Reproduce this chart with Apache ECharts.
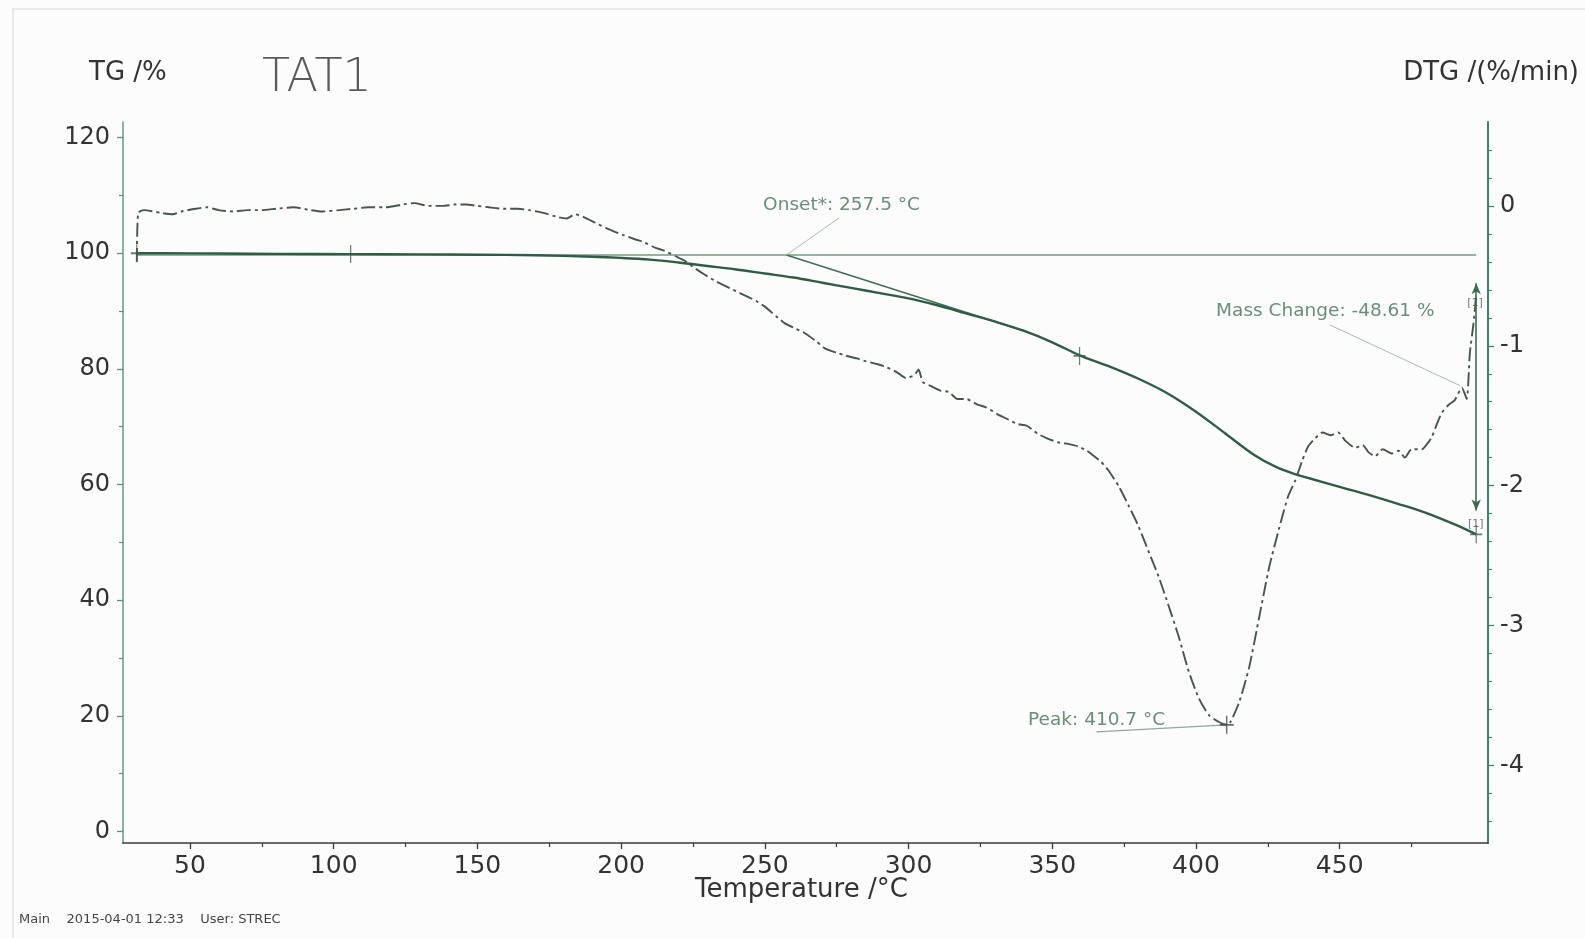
<!DOCTYPE html>
<html>
<head>
<meta charset="utf-8">
<title>TAT1 – TG / DTG</title>
<script src="https://cdn.jsdelivr.net/npm/echarts@6/dist/echarts.min.js"></script>
<style>
  html, body { margin: 0; padding: 0; background: #fcfcfc; }
  #chart { width: 1585px; height: 938px; }
</style>
</head>
<body>
<div id="chart"></div>
<script>
// ---- measured curves ----
// TG: temperature (°C), residual mass (%)
const tgPoints = [
  [31.5,100.0],[40,100.0],[60,99.95],[80,99.9],[105.9,99.85],[130,99.8],[150,99.75],
  [170,99.65],[190,99.4],[200,99.2],[210,98.9],[220,98.4],[230,97.8],[240,97.2],
  [250,96.5],[260,95.8],[270,94.9],[280,94.0],[290,93.1],[300,92.2],[310,91.0],
  [320,89.6],[330,88.2],[340,86.6],[350,84.6],[360,82.25],[370,80.4],[380,78.3],
  [390,75.8],[400,72.6],[410,68.9],[420,65.2],[428,63.0],[435,61.7],[440,61.0],
  [450,59.6],[460,58.2],[470,56.7],[480,55.1],[490,53.1],[497.5,51.39]
];

// DTG: temperature (°C), mass-loss rate (%/min)
const dtgPoints = [
  [31.5,-0.40],[32,-0.05],[34,-0.03],[40,-0.05],[44,-0.06],[47,-0.04],[52,-0.02],[56,-0.01],
  [60,-0.03],[65,-0.04],[70,-0.03],[75,-0.03],[80,-0.02],[86,-0.01],[92,-0.03],[96,-0.04],
  [102,-0.03],[107,-0.02],[112,-0.01],[118,-0.01],[124,0.01],[128,0.02],[133,0.0],[138,0.0],
  [142,0.01],[146,0.01],[150,0.0],[154,-0.01],[159,-0.02],[164,-0.02],[168,-0.03],[173,-0.05],
  [178,-0.08],[181,-0.09],[184,-0.06],[187,-0.08],[191,-0.12],[195,-0.16],[201,-0.21],[205,-0.24],
  [208,-0.26],[212,-0.30],[215,-0.32],[219,-0.36],[222,-0.39],[226,-0.45],[229,-0.49],[233,-0.54],
  [236,-0.57],[240,-0.61],[243,-0.64],[247,-0.68],[250,-0.72],[254,-0.79],[257,-0.84],[261,-0.88],
  [264,-0.91],[268,-0.97],[271,-1.02],[275,-1.05],[278,-1.07],[282,-1.09],[285,-1.11],[289,-1.13],
  [292,-1.15],[296,-1.19],[299,-1.23],[302,-1.21],[303.5,-1.17],[305,-1.26],[308,-1.29],[311,-1.32],
  [314,-1.33],[317,-1.38],[320,-1.38],[324,-1.42],[327,-1.44],[331,-1.49],[334,-1.52],[338,-1.56],
  [341,-1.57],[345,-1.63],[348,-1.66],[352,-1.69],[355,-1.70],[359,-1.72],[362,-1.75],[364,-1.78],
  [367,-1.83],[369.5,-1.89],[373,-2.00],[376.5,-2.14],[380,-2.29],[383.5,-2.47],[387,-2.65],
  [390.5,-2.86],[394,-3.08],[397.5,-3.33],[401,-3.52],[404.5,-3.64],[408,-3.69],[410.7,-3.71],
  [412,-3.69],[415,-3.55],[418.5,-3.30],[422,-2.94],[425.5,-2.58],[429,-2.30],[432,-2.08],
  [434.6,-1.96],[437,-1.82],[439,-1.72],[441.5,-1.66],[444,-1.62],[447,-1.64],[449.5,-1.62],
  [452,-1.68],[455.4,-1.73],[458,-1.71],[460,-1.76],[462.3,-1.79],[465,-1.74],[468.2,-1.77],
  [470.5,-1.75],[472.7,-1.80],[475,-1.74],[478.6,-1.74],[480.5,-1.70],[482.1,-1.65],[484,-1.55],
  [485.5,-1.48],[488,-1.42],[490,-1.39],[492.5,-1.30],[494.2,-1.38],[495.3,-1.05],[496.5,-0.85],
  [497.5,-0.65]
];

// ---- evaluation constructions (TG axis) ----
const onsetBaseline = [[31.5,99.7],[497.5,99.7]];
const onsetTangent = [[257.5,99.7],[340,86.6]];
const onsetLeader = [[275.8,106.1],[257.5,99.7]];
const massLeader = [[446.6,87.6],[491.9,77.1]];
const massArrow = [[497.5,94.8],[497.5,55.5]];
const tgMarkers = [[31.5,100.0],[105.9,99.85],[359.5,82.25],[497.5,51.39]];

// ---- evaluation constructions (DTG axis) ----
const peakLeader = [[365.4,-3.76],[410.7,-3.71]];
const dtgMarkers = [[410.7,-3.71]];

// ---- annotation texts (anchored at left edge, TG axis) ----
const noteLabels = [
  { name: 'Onset*: 257.5 °C', value: [249.4,108.3] },
  { name: 'Mass Change: -48.61 %', value: [407.0,89.95] },
  { name: 'Peak: 410.7 °C', value: [341.6,19.3] }
];
const stepTags = [
  { name: '[1]', value: [494.4,91.4] },
  { name: '[1]', value: [494.6,53.1] }
];

// ---- axis ticks ----
const tempTicks = [50,100,150,200,250,300,350,400,450];
const tempMinorTicks = [75,125,175,225,275,325,375,425,475];
const tgTicks = [0,20,40,60,80,100,120];
const tgMinorTicks = [10,30,50,70,90,110];
const dtgTicks = [0,-1,-2,-3,-4];
const dtgMinorTicks = [0.4,0.2,-0.2,-0.4,-0.6,-0.8,-1.2,-1.4,-1.6,-1.8,-2.2,-2.4,-2.6,-2.8,
                       -3.2,-3.4,-3.6,-3.8,-4.2,-4.4];

const FONT = 'DejaVu Sans';
const TG_MIN = -2.0, TG_MAX = 122.7;
const DTG_MIN = -4.555, DTG_MAX = 0.6;
const T_MIN = 26.7, T_MAX = 501.6;

const chart = echarts.init(document.getElementById('chart'));

function minorAxis(pos, min, max, ticks, color) {
  return {
    type: 'value', position: pos, min: min, max: max,
    axisLine: { show: false, onZero: false },
    axisLabel: { show: false },
    splitLine: { show: false },
    axisTick: { show: true, customValues: ticks, length: 4, lineStyle: { color: color, width: 1.2 } }
  };
}

function helperLine(data, yIdx, color, width) {
  return {
    type: 'line', data: data, xAxisIndex: 0, yAxisIndex: yIdx,
    showSymbol: false, silent: true, animation: false, z: 3,
    lineStyle: { color: color, width: width }
  };
}

const plusPath = 'path://M9,0 L11,0 L11,9 L20,9 L20,11 L11,11 L11,20 L9,20 L9,11 L0,11 L0,9 L9,9 Z';

chart.setOption({
  backgroundColor: '#fcfcfc',
  animation: false,
  grid: { left: 123, top: 122, width: 1365, height: 721 },
  xAxis: [
    {
      type: 'value', min: T_MIN, max: T_MAX, position: 'bottom',
      axisLine: { onZero: false, lineStyle: { color: '#3a3a3a', width: 1.6 } },
      axisTick: { customValues: tempTicks, length: 6, lineStyle: { color: '#3a3a3a', width: 1.3 } },
      axisLabel: { customValues: tempTicks, fontSize: 25, color: '#333', fontFamily: FONT, margin: 11 },
      splitLine: { show: false }
    },
    {
      type: 'value', min: T_MIN, max: T_MAX, position: 'bottom',
      axisLine: { show: false, onZero: false }, axisLabel: { show: false }, splitLine: { show: false },
      axisTick: { customValues: tempMinorTicks, length: 4, lineStyle: { color: '#3a3a3a', width: 1.2 } }
    }
  ],
  yAxis: [
    {
      type: 'value', position: 'left', min: TG_MIN, max: TG_MAX,
      axisLine: { show: true, onZero: false, lineStyle: { color: '#6f9e8c', width: 1.6 } },
      axisTick: { show: true, customValues: tgTicks, length: 6, lineStyle: { color: '#5d8d7b', width: 1.3 } },
      axisLabel: { customValues: tgTicks, fontSize: 24, color: '#333', fontFamily: FONT, margin: 13 },
      splitLine: { show: false }
    },
    {
      type: 'value', position: 'right', min: DTG_MIN, max: DTG_MAX,
      axisLine: { show: true, onZero: false, lineStyle: { color: '#3f826c', width: 2 } },
      axisTick: { show: true, customValues: dtgTicks, length: 6, lineStyle: { color: '#3f826c', width: 1.3 } },
      axisLabel: { customValues: dtgTicks, fontSize: 24, color: '#333', fontFamily: FONT, margin: 12 },
      splitLine: { show: false }
    },
    minorAxis('left', TG_MIN, TG_MAX, tgMinorTicks, '#5d8d7b'),
    minorAxis('right', DTG_MIN, DTG_MAX, dtgMinorTicks, '#3f826c')
  ],
  series: [
    // onset evaluation: extrapolated baseline, tangent and leader
    helperLine(onsetBaseline, 0, '#6f9d86', 1.6),
    helperLine(onsetTangent, 0, '#3f6f56', 1.6),
    helperLine(onsetLeader, 0, '#a9bdb1', 1),
    helperLine(massLeader, 0, '#a9bdb1', 1),
    helperLine(peakLeader, 1, '#8fa89a', 1.2),
    {
      name: 'TG', type: 'line', data: tgPoints, xAxisIndex: 0, yAxisIndex: 0,
      showSymbol: false, smooth: 0.35, z: 4,
      lineStyle: { color: '#2f5c44', width: 2.4 },
      markLine: {
        silent: true, symbol: ['arrow', 'arrow'], symbolSize: [7, 11],
        label: { show: false },
        lineStyle: { color: '#3a6b52', width: 1.6, type: 'solid' },
        data: [[{ coord: massArrow[0] }, { coord: massArrow[1] }]]
      }
    },
    {
      name: 'DTG', type: 'line', data: dtgPoints, xAxisIndex: 0, yAxisIndex: 1,
      showSymbol: false, smooth: 0.2, z: 4,
      lineStyle: { color: '#46564c', width: 1.9, type: [14, 4, 3, 4] }
    },
    {
      type: 'scatter', data: tgMarkers, xAxisIndex: 0, yAxisIndex: 0, silent: true, z: 5,
      symbol: plusPath, symbolSize: [12, 18], itemStyle: { color: '#3b5e4b' }
    },
    {
      type: 'scatter', data: dtgMarkers, xAxisIndex: 0, yAxisIndex: 1, silent: true, z: 5,
      symbol: plusPath, symbolSize: [14, 18], itemStyle: { color: '#3b4b42' }
    },
    {
      type: 'scatter', data: noteLabels, xAxisIndex: 0, yAxisIndex: 0, silent: true, z: 6,
      symbolSize: 0,
      label: {
        show: true, position: 'right', distance: 0, formatter: '{b}',
        fontSize: 18.5, fontFamily: FONT, color: '#437358'
      }
    },
    {
      type: 'scatter', data: stepTags, xAxisIndex: 0, yAxisIndex: 0, silent: true, z: 6,
      symbolSize: 0,
      label: {
        show: true, position: 'right', distance: 0, formatter: '{b}',
        fontSize: 11, fontFamily: FONT, color: '#4b5a52'
      }
    }
  ],
  graphic: [
    { type: 'rect', silent: true, z: -1,
      shape: { x: 13, y: 9, width: 1600, height: 960 },
      style: { fill: null, stroke: '#e2e2e2', lineWidth: 1.5 } },
    { type: 'text', left: 89, top: 60,
      style: { text: 'TG /%', font: '26px "DejaVu Sans"', fill: '#333' } },
    { type: 'text', left: 262, top: 56,
      style: { text: 'TAT1', font: '200 46px "DejaVu Sans"', fill: '#5a5a5a' } },
    { type: 'text', right: 6, top: 60,
      style: { text: 'DTG /(%/min)', font: '26px "DejaVu Sans"', fill: '#333' } },
    { type: 'text', left: 695, top: 877,
      style: { text: 'Temperature /°C', font: '26px "DejaVu Sans"', fill: '#333' } },
    { type: 'text', left: 19, top: 913,
      style: { text: 'Main    2015-04-01 12:33    User: STREC', font: '13px "DejaVu Sans"', fill: '#444' } }
  ]
});
</script>
</body>
</html>
